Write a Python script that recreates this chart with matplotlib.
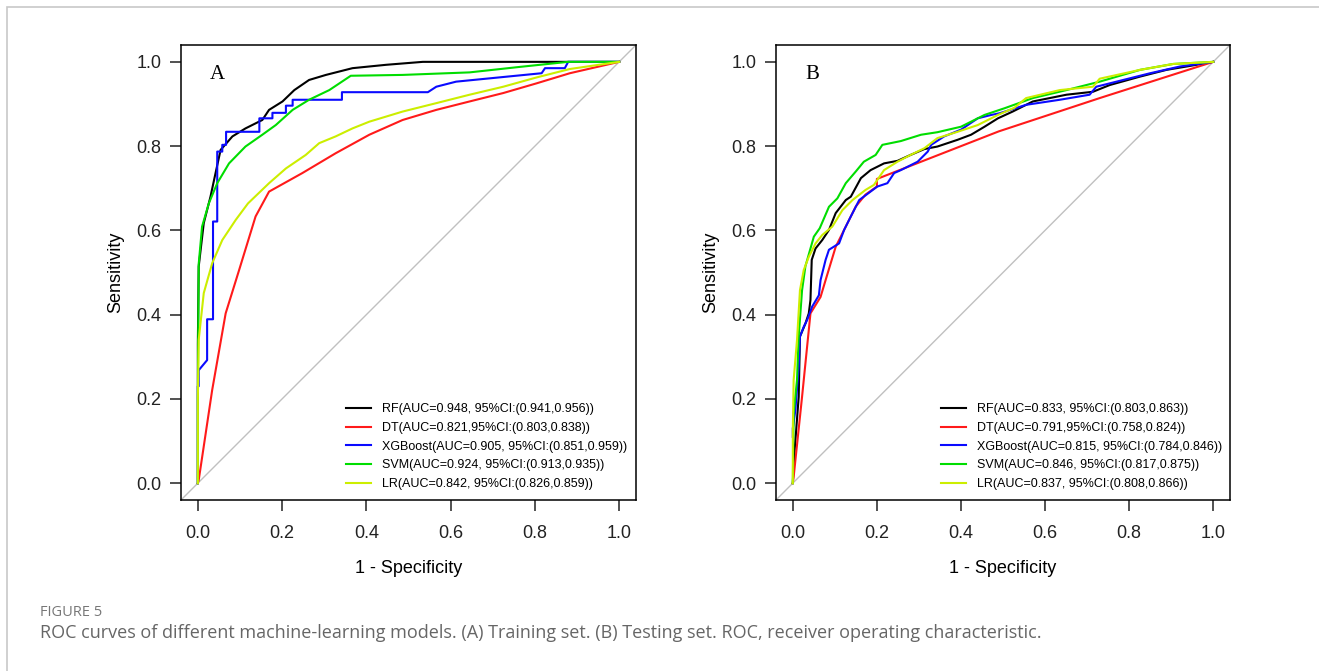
import matplotlib
matplotlib.use('Agg')
import matplotlib.pyplot as plt
from matplotlib.patches import Rectangle
from matplotlib.ticker import FormatStrFormatter

plt.rcParams['font.family'] = ['Liberation Sans', 'DejaVu Sans']

# ---- data (1 - specificity, sensitivity) ----
models = ['RF', 'DT', 'XGBoost', 'SVM', 'LR']
colors = ['#000000', '#ff1a1a', '#0a0aff', '#00dd00', '#ccee00']

# A: training set
rf_a_x = [0, 0, 0, 0.002, 0.014, 0.030, 0.042, 0.054, 0.082, 0.113, 0.153, 0.169, 0.201, 0.229, 0.264, 0.304, 0.367, 0.447, 0.534, 0.879, 1.0]
rf_a_y = [0, 0.23, 0.33, 0.514, 0.617, 0.680, 0.736, 0.791, 0.823, 0.842, 0.862, 0.886, 0.906, 0.933, 0.957, 0.969, 0.985, 0.993, 1.0, 1.0, 1.0]
dt_a_x = [0, 0.002, 0.034, 0.066, 0.098, 0.137, 0.169, 0.248, 0.327, 0.407, 0.486, 0.566, 0.645, 0.725, 0.804, 0.883, 1.0]
dt_a_y = [0, 0.007, 0.221, 0.403, 0.506, 0.633, 0.692, 0.736, 0.783, 0.827, 0.862, 0.886, 0.906, 0.926, 0.949, 0.973, 1.0]
xgb_a_x = [0, 0, 0.002, 0.002, 0.022, 0.022, 0.036, 0.036, 0.046, 0.046, 0.058, 0.058, 0.067, 0.067, 0.146, 0.146, 0.177, 0.177, 0.209, 0.209, 0.225, 0.225, 0.342, 0.342, 0.546, 0.566, 0.613, 0.816, 0.824, 0.871, 0.879, 1.0]
xgb_a_y = [0, 0.23, 0.23, 0.268, 0.292, 0.389, 0.389, 0.621, 0.621, 0.787, 0.787, 0.803, 0.803, 0.834, 0.834, 0.866, 0.866, 0.879, 0.879, 0.896, 0.896, 0.910, 0.910, 0.928, 0.928, 0.941, 0.953, 0.973, 0.985, 0.985, 1.0, 1.0]
svm_a_x = [0, 0, 0.002, 0.010, 0.026, 0.046, 0.074, 0.113, 0.153, 0.185, 0.225, 0.264, 0.312, 0.363, 0.486, 0.645, 0.764, 0.879, 1.0]
svm_a_y = [0, 0.2, 0.52, 0.609, 0.664, 0.712, 0.759, 0.799, 0.827, 0.850, 0.886, 0.910, 0.933, 0.967, 0.969, 0.975, 0.988, 1.0, 1.0]
lr_a_x = [0, 0, 0.002, 0.014, 0.034, 0.058, 0.090, 0.119, 0.169, 0.209, 0.256, 0.288, 0.327, 0.367, 0.407, 0.486, 0.566, 0.645, 0.725, 0.804, 0.883, 1.0]
lr_a_y = [0, 0.2, 0.340, 0.451, 0.522, 0.577, 0.625, 0.664, 0.712, 0.747, 0.779, 0.807, 0.823, 0.842, 0.858, 0.882, 0.902, 0.922, 0.941, 0.963, 0.983, 1.0]
auc_a = ['RF(AUC=0.948, 95%CI:(0.941,0.956))',
         'DT(AUC=0.821,95%CI:(0.803,0.838))',
         'XGBoost(AUC=0.905, 95%CI:(0.851,0.959))',
         'SVM(AUC=0.924, 95%CI:(0.913,0.935))',
         'LR(AUC=0.842, 95%CI:(0.826,0.859))']

# B: testing set
rf_b_x = [0, 0.002, 0.014, 0.017, 0.030, 0.038, 0.042, 0.045, 0.054, 0.070, 0.086, 0.102, 0.126, 0.138, 0.162, 0.185, 0.217, 0.249, 0.280, 0.313, 0.344, 0.392, 0.424, 0.456, 0.488, 0.523, 0.571, 0.651, 0.714, 0.754, 0.826, 0.889, 0.937, 1.0]
rf_b_y = [0, 0.047, 0.205, 0.348, 0.379, 0.403, 0.435, 0.530, 0.557, 0.577, 0.601, 0.641, 0.672, 0.680, 0.724, 0.743, 0.759, 0.765, 0.779, 0.793, 0.799, 0.815, 0.827, 0.846, 0.866, 0.882, 0.906, 0.922, 0.929, 0.945, 0.965, 0.981, 0.989, 1.0]
dt_b_x = [0, 0.002, 0.022, 0.034, 0.042, 0.066, 0.078, 0.102, 0.126, 0.150, 0.173, 0.200, 0.200, 0.490, 0.730, 1.0]
dt_b_y = [0, 0.015, 0.205, 0.324, 0.403, 0.442, 0.482, 0.561, 0.609, 0.657, 0.685, 0.704, 0.722, 0.835, 0.914, 1.0]
xgb_b_x = [0, 0, 0.006, 0.014, 0.017, 0.026, 0.034, 0.046, 0.062, 0.066, 0.078, 0.086, 0.110, 0.122, 0.138, 0.158, 0.201, 0.225, 0.241, 0.257, 0.297, 0.321, 0.329, 0.360, 0.400, 0.440, 0.472, 0.492, 0.555, 0.635, 0.706, 0.722, 0.770, 0.850, 0.921, 1.0]
xgb_b_y = [0.11, 0.13, 0.173, 0.276, 0.348, 0.371, 0.387, 0.419, 0.446, 0.482, 0.530, 0.554, 0.569, 0.601, 0.633, 0.672, 0.704, 0.712, 0.736, 0.743, 0.763, 0.787, 0.803, 0.823, 0.839, 0.866, 0.874, 0.878, 0.898, 0.910, 0.922, 0.941, 0.953, 0.973, 0.989, 1.0]
svm_b_x = [0, 0.002, 0.010, 0.014, 0.022, 0.030, 0.050, 0.064, 0.086, 0.106, 0.126, 0.150, 0.169, 0.197, 0.213, 0.257, 0.305, 0.344, 0.400, 0.456, 0.504, 0.571, 0.651, 0.730, 0.826, 0.905, 1.0]
svm_b_y = [0, 0.166, 0.245, 0.348, 0.458, 0.515, 0.585, 0.605, 0.656, 0.676, 0.712, 0.740, 0.763, 0.779, 0.803, 0.812, 0.827, 0.833, 0.846, 0.874, 0.890, 0.914, 0.933, 0.953, 0.981, 0.995, 1.0]
lr_b_x = [0, 0, 0.002, 0.010, 0.017, 0.026, 0.038, 0.054, 0.070, 0.094, 0.118, 0.142, 0.173, 0.193, 0.217, 0.249, 0.280, 0.313, 0.344, 0.392, 0.440, 0.488, 0.527, 0.555, 0.635, 0.714, 0.730, 0.826, 0.905, 1.0]
lr_b_y = [0, 0.126, 0.245, 0.340, 0.458, 0.506, 0.537, 0.569, 0.589, 0.609, 0.648, 0.672, 0.696, 0.708, 0.743, 0.763, 0.779, 0.795, 0.819, 0.834, 0.850, 0.874, 0.891, 0.914, 0.933, 0.941, 0.960, 0.981, 0.995, 1.0]
auc_b = ['RF(AUC=0.833, 95%CI:(0.803,0.863))',
         'DT(AUC=0.791,95%CI:(0.758,0.824))',
         'XGBoost(AUC=0.815, 95%CI:(0.784,0.846))',
         'SVM(AUC=0.846, 95%CI:(0.817,0.875))',
         'LR(AUC=0.837, 95%CI:(0.808,0.866))']

curves_a = [(rf_a_x, rf_a_y), (dt_a_x, dt_a_y), (xgb_a_x, xgb_a_y), (svm_a_x, svm_a_y), (lr_a_x, lr_a_y)]
curves_b = [(rf_b_x, rf_b_y), (dt_b_x, dt_b_y), (xgb_b_x, xgb_b_y), (svm_b_x, svm_b_y), (lr_b_x, lr_b_y)]

fig = plt.figure(figsize=(13.19, 6.71), dpi=100)

# light frame round the figure panel
fig.add_artist(Rectangle((6.5 / 1319, -0.1), 1.2, 1.1 - 6.5 / 671, transform=fig.transFigure,
                         fill=False, edgecolor='#c8c8c8', lw=1.2))

def roc_panel(rect, curves, labels, letter):
    ax = fig.add_axes(rect)
    ax.axline((0, 0), slope=1, color='#c0c0c0', lw=1.0, zorder=1)
    for (x, y), c, lab in zip(curves, colors, labels):
        ax.plot(x, y, color=c, lw=1.5, label=lab, zorder=2)
    ax.set_xlim(-0.04, 1.04)
    ax.set_ylim(-0.04, 1.04)
    ax.set_xticks([0, 0.2, 0.4, 0.6, 0.8, 1.0])
    ax.set_yticks([0, 0.2, 0.4, 0.6, 0.8, 1.0])
    ax.xaxis.set_major_formatter(FormatStrFormatter('%.1f'))
    ax.yaxis.set_major_formatter(FormatStrFormatter('%.1f'))
    ax.tick_params(axis='both', direction='out', length=8, width=1.1, labelsize=13, colors='#222222')
    ax.tick_params(axis='x', pad=10)
    ax.tick_params(axis='y', pad=6)
    for s in ax.spines.values():
        s.set_linewidth(1.1)
    ax.set_xlabel('1 - Specificity', fontsize=13, labelpad=13)
    ax.set_ylabel('Sensitivity', fontsize=13, labelpad=9)
    ax.text(0.046, 0.97, letter, fontsize=15, family='Liberation Serif', ha='center', va='center')
    ax.legend(loc='lower left', bbox_to_anchor=(0.363, 0.022), frameon=False, fontsize=9,
              handlelength=2.0, handletextpad=0.9, labelspacing=0.53, borderpad=0, borderaxespad=0)
    return ax

roc_panel([181 / 1319, 1 - 500 / 671, 455 / 1319, 455 / 671], curves_a, auc_a, 'A')
roc_panel([776 / 1319, 1 - 500 / 671, 454 / 1319, 455 / 671], curves_b, auc_b, 'B')

fig.text(40 / 1319, 1 - 613 / 671, 'FIGURE 5', fontsize=10.5, color='#777777', family='Open Sans', va='center')
fig.text(40 / 1319, 1 - 633 / 671,
         'ROC curves of different machine-learning models. (A) Training set. (B) Testing set. '
         'ROC, receiver operating characteristic.',
         fontsize=13, color='#666666', family='Open Sans', va='center')

fig.savefig('out.png', dpi=100)
